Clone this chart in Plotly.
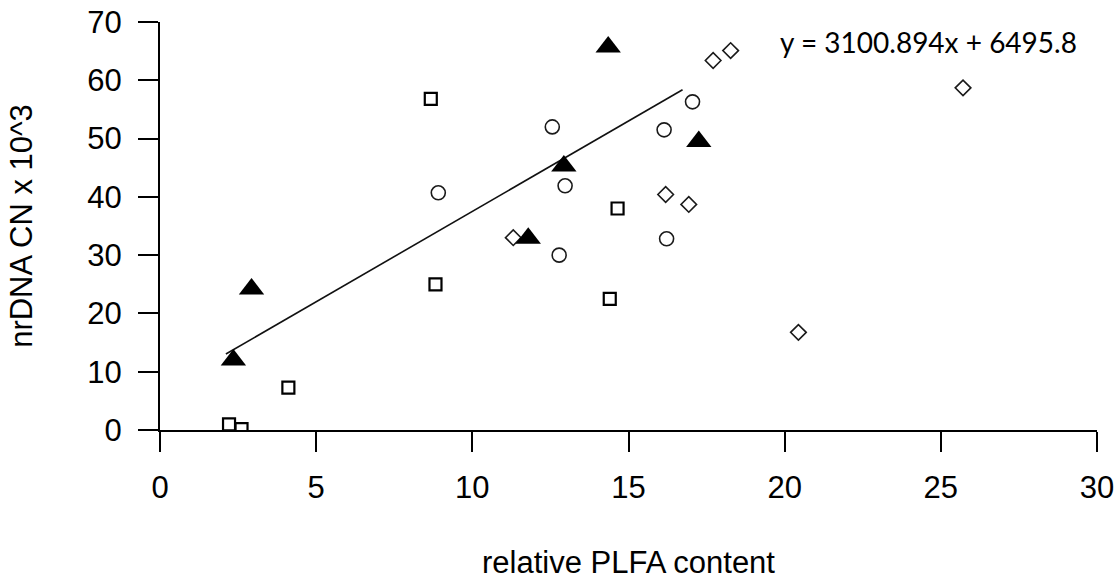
import plotly.graph_objects as go

# Data (relative PLFA content vs nrDNA CN x 10^3)
tri_x = [2.35, 2.93, 11.79, 12.93, 14.35, 17.25]
tri_y = [12.0, 24.2, 32.9, 45.3, 65.7, 49.5]

sq_x = [2.21, 2.61, 4.11, 8.67, 8.82, 14.40, 14.65]
sq_y = [0.97, 0.15, 7.26, 56.8, 25.0, 22.5, 38.0]

circ_x = [8.91, 12.56, 12.78, 12.97, 16.14, 16.22, 17.05]
circ_y = [40.7, 52.0, 30.0, 41.9, 51.5, 32.8, 56.3]

dia_x = [11.31, 16.19, 16.93, 17.71, 18.27, 20.44, 25.71]
dia_y = [33.0, 40.4, 38.7, 63.4, 65.1, 16.75, 58.7]

# Trend line y = 3100.894x + 6495.8 (plotted in units of 10^3)
slope = 3100.894
intercept = 6495.8
fit_x = [2.11, 16.73]
fit_y = [(slope * v + intercept) / 1000 for v in fit_x]
eq_text = "y = 3100.894x + 6495.8"

x_ticks = [0, 5, 10, 15, 20, 25, 30]
y_ticks = [0, 10, 20, 30, 40, 50, 60, 70]

fig = go.Figure()
fig.add_trace(go.Scatter(x=fit_x, y=fit_y, mode="lines",
                         line=dict(color="#111111", width=1.6), showlegend=False))
fig.add_trace(go.Scatter(x=sq_x, y=sq_y, mode="markers", showlegend=False,
                         marker=dict(symbol="square-open", size=12, color="#000000",
                                     line=dict(width=2.2, color="#000000"))))
fig.add_trace(go.Scatter(x=circ_x, y=circ_y, mode="markers", showlegend=False,
                         marker=dict(symbol="circle-open", size=14, color="#1a1a1a",
                                     line=dict(width=1.6, color="#1a1a1a"))))
fig.add_trace(go.Scatter(x=dia_x, y=dia_y, mode="markers", showlegend=False,
                         marker=dict(symbol="diamond-open", size=12, color="#1a1a1a",
                                     line=dict(width=1.6, color="#1a1a1a"))))
fig.add_trace(go.Scatter(x=tri_x, y=tri_y, mode="markers", showlegend=False,
                         marker=dict(symbol="triangle-up", size=22, color="#000000",
                                     line=dict(width=0))))

fig.add_annotation(x=19.78, y=66.6, xref="x", yref="y", text=eq_text,
                   showarrow=False, xanchor="left", yanchor="middle",
                   font=dict(family="Lato", size=28, color="#000000"))

axis_font = dict(family="Liberation Sans, Arial", size=31, color="#000000")
title_font = dict(family="Liberation Sans, Arial", size=31, color="#000000")
fig.update_layout(
    width=1120, height=584,
    margin=dict(l=160, r=23, t=22, b=154, autoexpand=False),
    paper_bgcolor="white", plot_bgcolor="white",
    xaxis=dict(range=[0, 30], tickvals=x_ticks, ticks="outside", ticklen=20,
               tickwidth=2, tickcolor="black", showline=True, linecolor="black",
               linewidth=2, showgrid=False, zeroline=False, tickfont=axis_font,
               ticklabelstandoff=9, automargin=False,
               title=dict(text="relative PLFA content", font=title_font, standoff=47)),
    yaxis=dict(range=[0, 70], tickvals=y_ticks, ticks="outside", ticklen=20,
               tickwidth=2, tickcolor="black", showline=True, linecolor="black",
               linewidth=2, showgrid=False, zeroline=False, tickfont=axis_font,
               ticklabelstandoff=10, automargin=False,
               title=dict(text="nrDNA CN x 10^3", font=title_font, standoff=45)),
)

fig.write_html("out.html")
